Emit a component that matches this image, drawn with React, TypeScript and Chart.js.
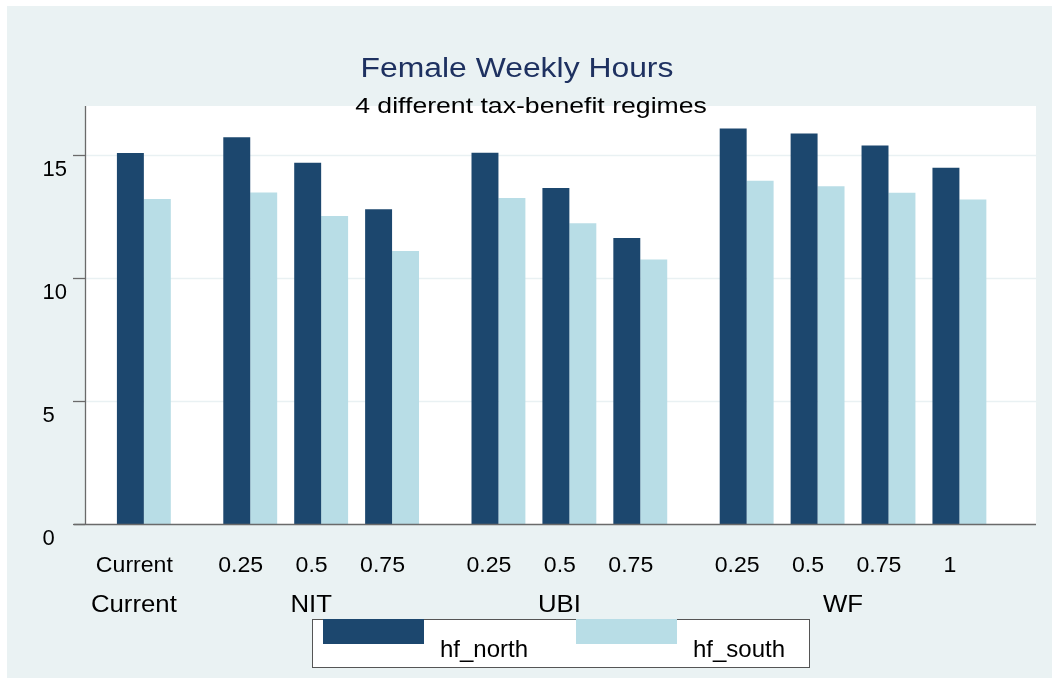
import React, { useEffect, useRef } from "react";
import { Chart, registerables } from "chart.js";

Chart.register(...registerables);

// ---- data ----
const categoryLabels = ["Current", "0.25", "0.5", "0.75", "0.25", "0.5", "0.75", "0.25", "0.5", "0.75", "1"];
const categoryPositions = [0, 1.5, 2.5, 3.5, 5, 6, 7, 8.5, 9.5, 10.5, 11.5];
const groupNames = ["Current", "NIT", "UBI", "WF"];
const groupFirstIndex = [0, 1, 4, 7];
const groupLastIndex = [0, 3, 6, 10];
const northValues = [15.09, 15.73, 14.69, 12.8, 15.1, 13.66, 11.63, 16.09, 15.88, 15.39, 14.49];
const southValues = [13.22, 13.48, 12.53, 11.1, 13.26, 12.23, 10.76, 13.96, 13.74, 13.47, 13.2];
const yTickValues = [0, 5, 10, 15];
const seriesNames = ["hf_north", "hf_south"];
const titleText = "Female Weekly Hours";
const subtitleText = "4 different tax-benefit regimes";

// ---- styles ----
const FONT = '"Liberation Sans", Arial, Helvetica, sans-serif';
const NORTH_COLOR = "#1C476E";
const SOUTH_COLOR = "#B8DDE6";
const BG = "#EAF2F3";
const GRID = "#E9F1F3";
const AXIS = "#6A6A6A";

function drawText(
  ctx: CanvasRenderingContext2D,
  text: string,
  x: number,
  y: number,
  size: number,
  sx: number,
  align: "left" | "center" | "right",
  color: string,
  baseline: CanvasTextBaseline = "alphabetic"
) {
  ctx.save();
  ctx.font = `${size}px ${FONT}`;
  ctx.fillStyle = color;
  ctx.textBaseline = baseline;
  ctx.textAlign = "left";
  const w = ctx.measureText(text).width * sx;
  const left = align === "center" ? x - w / 2 : align === "right" ? x - w : x;
  ctx.translate(left, y);
  ctx.scale(sx, 1);
  ctx.fillText(text, 0, 0);
  ctx.restore();
}

const decorPlugin = {
  id: "stataDecor",
  beforeDatasetsDraw(chart: any) {
    const { ctx, chartArea: ca, scales } = chart;
    const y = scales.y;
    ctx.save();
    ctx.fillStyle = "#FFFFFF";
    ctx.fillRect(ca.left, ca.top, ca.right - ca.left, ca.bottom - ca.top);
    ctx.strokeStyle = GRID;
    ctx.lineWidth = 1.5;
    yTickValues.forEach((v) => {
      if (v === 0) return;
      const py = Math.round(y.getPixelForValue(v)) + 0.5;
      ctx.beginPath();
      ctx.moveTo(ca.left, py);
      ctx.lineTo(ca.right, py);
      ctx.stroke();
    });
    ctx.restore();
  },
  afterDatasetsDraw(chart: any) {
    const { ctx, chartArea: ca, scales } = chart;
    const x = scales.x;
    const y = scales.y;
    ctx.save();
    ctx.strokeStyle = AXIS;
    ctx.lineWidth = 1.3;
    // y axis
    ctx.beginPath();
    ctx.moveTo(ca.left + 0.5, ca.top);
    ctx.lineTo(ca.left + 0.5, ca.bottom);
    ctx.stroke();
    // x axis
    ctx.beginPath();
    ctx.moveTo(ca.left - 11, Math.round(ca.bottom) + 0.5);
    ctx.lineTo(ca.right, Math.round(ca.bottom) + 0.5);
    ctx.stroke();
    // y ticks + labels
    yTickValues.forEach((v) => {
      const py = Math.round(y.getPixelForValue(v)) + 0.5;
      ctx.beginPath();
      ctx.moveTo(ca.left - 12, py);
      ctx.lineTo(ca.left, py);
      ctx.stroke();
      drawText(ctx, String(v), ca.left - 42.5, py + 14, 22, 1, "left", "#000", "middle");
    });
    ctx.restore();

    // x category labels
    categoryLabels.forEach((lab, i) => {
      const px = x.getPixelForValue(categoryPositions[i]);
      drawText(ctx, lab, px - 9.5, 565.7, 22, 1.05, "center", "#000");
    });
    // group labels
    groupNames.forEach((g, gi) => {
      const a = x.getPixelForValue(categoryPositions[groupFirstIndex[gi]]);
      const b = x.getPixelForValue(categoryPositions[groupLastIndex[gi]]);
      drawText(ctx, g, (a + b) / 2 - 10, 605.7, 23, 1.12, "center", "#000");
    });

    // title & subtitle
    const cx = (ca.left + ca.right) / 2;
    drawText(ctx, titleText, cx - 43.5, 70.7, 27, 1.18, "center", "#1E3160");
    drawText(ctx, subtitleText, cx - 29.5, 106.7, 22, 1.21, "center", "#000");

    // legend
    const lx = 305, ly = 613, lw = 497, lh = 48;
    ctx.save();
    ctx.fillStyle = "#FFFFFF";
    ctx.fillRect(lx, ly, lw, lh);
    ctx.strokeStyle = "#555";
    ctx.lineWidth = 1;
    ctx.strokeRect(lx + 0.5, ly + 0.5, lw, lh);
    const colors = [NORTH_COLOR, SOUTH_COLOR];
    const swatchX = [316, 569];
    const textX = [433, 686];
    seriesNames.forEach((name, i) => {
      ctx.fillStyle = colors[i];
      ctx.fillRect(swatchX[i], ly, 101, 25);
      drawText(ctx, name, textX[i], 651, 24, 1.0, "left", "#000");
    });
    ctx.restore();
  },
};

export default function App() {
  const canvasRef = useRef<HTMLCanvasElement | null>(null);

  useEffect(() => {
    if (!canvasRef.current) return;
    const chart = new Chart(canvasRef.current, {
      type: "bar",
      data: {
        datasets: [
          {
            label: seriesNames[0],
            data: categoryPositions.map((p, i) => ({ x: p, y: northValues[i] })),
            backgroundColor: NORTH_COLOR,
            borderWidth: 0,
          },
          {
            label: seriesNames[1],
            data: categoryPositions.map((p, i) => ({ x: p, y: southValues[i] })),
            backgroundColor: SOUTH_COLOR,
            borderWidth: 0,
          },
        ],
      },
      options: {
        animation: false,
        responsive: true,
        maintainAspectRatio: false,
        categoryPercentage: 0.76,
        barPercentage: 1,
        layout: { padding: { left: 78, right: 16, top: 100, bottom: 154 } },
        plugins: {
          legend: { display: false },
          title: { display: false },
          tooltip: { enabled: false },
        },
        scales: {
          x: {
            type: "linear",
            display: false,
            offset: false,
            min: -0.83,
            max: 12.58,
            afterBuildTicks: (s: any) => {
              s.ticks = categoryPositions.map((v) => ({ value: v }));
            },
          },
          y: {
            type: "linear",
            display: false,
            min: 0,
            max: 17,
          },
        },
      } as any,
      plugins: [decorPlugin],
    });
    return () => chart.destroy();
  }, []);

  return (
    <div
      style={{
        position: "absolute",
        left: 7,
        top: 6,
        width: 1045,
        height: 672,
        background: BG,
      }}
    >
      <canvas ref={canvasRef} />
    </div>
  );
}
